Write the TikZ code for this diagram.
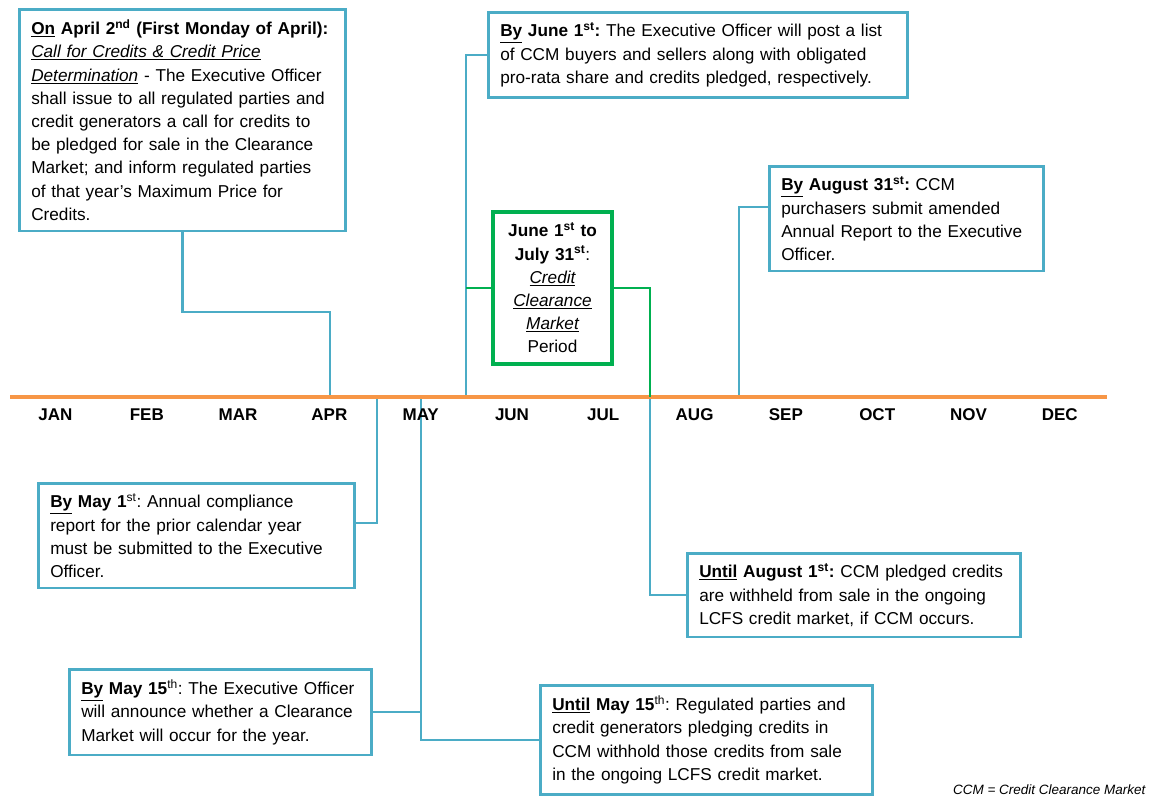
\documentclass[tikz,border=0pt]{standalone}
\usepackage{fontspec}
\setmainfont{Liberation Sans}
\usetikzlibrary{positioning,calc}
\definecolor{ccmblue}{HTML}{4BACC6}
\definecolor{ccmorange}{HTML}{F79646}
\definecolor{ccmgreen}{HTML}{00B050}
\frenchspacing

\begin{document}
\begin{tikzpicture}[
    x=1pt, y=-1pt,
    box/.style={rectangle, draw=ccmblue, line width=2.5pt, fill=white, anchor=north west, align=left, inner xsep=12pt, inner ysep=10.5pt, font=\fontsize{17.2}{23.2}\selectfont},
    periodbox/.style={rectangle, draw=ccmgreen, line width=3.5pt, fill=white, align=center, text width=95pt, inner xsep=12pt, inner ysep=11pt, font=\fontsize{17.2}{23.2}\selectfont},
    month/.style={font=\fontsize{17}{20}\selectfont\bfseries},
    link/.style={draw=ccmblue, line width=2.5pt},
    glink/.style={draw=ccmgreen, line width=2pt},
    timeline/.style={draw=ccmorange, line width=4pt}
]
    \useasboundingbox (0,0) rectangle (1151,798);

    \node[box, text width=302pt] (apr2) at (18,8) {\textbf{\underline{On} April 2\textsuperscript{nd} (First Monday of April):}\\
        \textit{\underline{Call for Credits \& Credit Price}}\\
        \textit{\underline{Determination}} - The Executive Officer\\
        shall issue to all regulated parties and\\
        credit generators a call for credits to\\
        be pledged for sale in the Clearance\\
        Market; and inform regulated parties\\
        of that year's Maximum Price for\\
        Credits.};
    \node[box, text width=395pt] (jun1) at (487,11) {\textbf{\underline{By} June 1\textsuperscript{st}:} The Executive Officer will post a list\\
        of CCM buyers and sellers along with obligated\\
        pro-rata share and credits pledged, respectively.};
    \node[box, text width=250pt] (aug31) at (768,165) {\textbf{\underline{By} August 31\textsuperscript{st}:} CCM\\
        purchasers submit amended\\
        Annual Report to the Executive\\
        Officer.};
    \node[periodbox] (ccm) at (552.5,288) {\textbf{June 1\textsuperscript{st} to}\\
        \textbf{July 31\textsuperscript{st}}:\\
        \textit{\underline{Credit}}\\
        \textit{\underline{Clearance}}\\
        \textit{\underline{Market}}\\
        Period};
    \node[box, text width=292pt] (may1) at (37,482) {\textbf{\underline{By} May 1}\textsuperscript{st}: Annual compliance\\
        report for the prior calendar year\\
        must be submitted to the Executive\\
        Officer.};
    \node[box, text width=309pt] (aug1) at (686,552) {\textbf{\underline{Until} August 1\textsuperscript{st}:} CCM pledged credits\\
        are withheld from sale in the ongoing\\
        LCFS credit market, if CCM occurs.};
    \node[box, text width=278pt] (may15) at (68,668) {\textbf{\underline{By} May 15}\textsuperscript{th}: The Executive Officer\\
        will announce whether a Clearance\\
        Market will occur for the year.};
    \node[box, text width=308pt] (untilmay) at (539,684) {\textbf{\underline{Until} May 15}\textsuperscript{th}: Regulated parties and\\
        credit generators pledging credits in\\
        CCM withhold those credits from sale\\
        in the ongoing LCFS credit market.};

    \coordinate (tl-w) at (10,397);
    \coordinate (tl-e) at (1107,397);
    \coordinate (t-apr) at (330,397);
    \coordinate (k-apr) at (330,312);
    \coordinate (t-may1) at (377,397);
    \coordinate (t-may15) at (421,397);
    \coordinate (t-jun) at (466,397);
    \coordinate (t-jul) at (650,397);
    \coordinate (t-aug31) at (739,397);

    \draw[link] (apr2.south) |- (k-apr) -- (t-apr);
    \draw[link] (jun1.west) -| (t-jun);
    \draw[link] ($(aug31.north west)+(0,42)$) -| (t-aug31);
    \draw[link] (t-may1) |- ($(may1.north east)+(0,41)$);
    \draw[link] (may15.east) -- (may15.east -| t-may15);
    \draw[link] (t-may15) |- (untilmay.west);
    \draw[link] (t-jul) |- (aug1.west);

    \draw[timeline] (tl-w) -- (tl-e);
    \draw[glink] (ccm.west) -- (ccm.west -| t-jun);
    \draw[glink] (ccm.east) -| (t-jul);

    \foreach \m [count=\i] in {JAN,FEB,MAR,APR,MAY,JUN,JUL,AUG,SEP,OCT,NOV,DEC}
        \node[month] (m\i) at ({55.5+91.3*(\i-1)},415) {\m};

    \node[anchor=east, font=\fontsize{13.5}{16}\selectfont\itshape] (legend) at (1149,790) {CCM = Credit Clearance Market};
\end{tikzpicture}
\end{document}
